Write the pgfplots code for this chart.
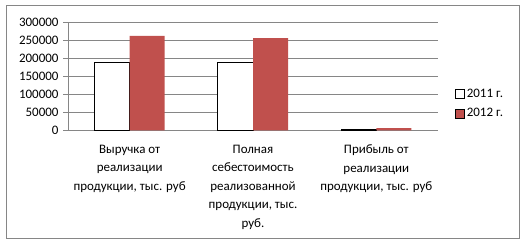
\documentclass[border=0pt]{standalone}
\usepackage{pgfplots}
\pgfplotsset{compat=1.18}
\usepackage{fontspec}
\setmainfont{Carlito}
\definecolor{exred}{HTML}{C0504D}
\definecolor{exgray}{HTML}{868686}
\begin{document}
\begin{tikzpicture}[x=1bp,y=1bp]
\useasboundingbox (0,0) rectangle (526,246);
\draw[exgray, line width=1bp] (6.5,7.5) rectangle (519,240);
\begin{axis}[
  at={(68bp,115.7bp)}, anchor=south west,
  scale only axis, width=370bp, height=108bp,
  xmin=-0.5, xmax=2.5, ymin=0, ymax=300000,
  ytick={0,50000,...,300000},
  scaled y ticks=false,
  yticklabel style={/pgf/number format/fixed, /pgf/number format/1000 sep={}, font=\fontsize{13}{15}\selectfont, xshift=-1bp},
  /pgf/number format/assume math mode=true,
  ymajorgrids, grid style={exgray, line width=1bp},
  axis x line*=bottom, axis y line*=left,
  axis line style={exgray, line width=1bp, -},
  tick style={exgray, line width=1bp},
  tick align=outside, major tick length=5bp,
  xtick={0,1,2},
  xticklabels={{Выручка от\\реализации\\продукции, тыс. руб},{Полная\\себестоимость\\реализованной\\продукции, тыс.\\руб.},{Прибыль от\\реализации\\продукции, тыс. руб}},
  xticklabel style={align=center, font=\fontsize{13}{18.6}\selectfont, yshift=-6bp},
  x tick style={draw=none},
  minor xtick={-0.5,0.5,1.5,2.5},
  minor tick length=5bp,
  minor x tick style={exgray, line width=1bp},
  legend style={at={(1.045,0.245)}, anchor=west, draw=none, fill=none, font=\fontsize{13}{15}\selectfont, row sep=5bp, inner sep=0pt},
  legend image code/.code={\draw[#1] (0bp,-4.5bp) rectangle (9bp,4.5bp);},
  legend cell align=left,
]
\addplot[ybar, bar width=0.284, bar shift=-0.142, draw=black, line width=1bp, fill=white] coordinates {(0,188000) (1,188000) (2,3000)};
\addlegendentry{2011 г.}
\addplot[ybar, bar width=0.284, bar shift=0.142, draw=none, fill=exred] coordinates {(0,262000) (1,256000) (2,6000)};
\addlegendentry{2012 г.}
\end{axis}
\end{tikzpicture}
\end{document}
